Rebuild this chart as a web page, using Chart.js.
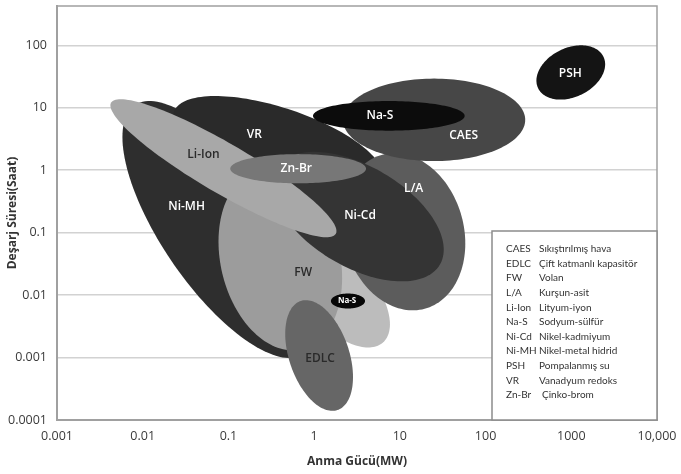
<!DOCTYPE html>
<html lang="tr">
<head>
<meta charset="UTF-8">
<title>Enerji depolama teknolojileri</title>
<script src="https://cdn.jsdelivr.net/npm/chart.js"></script>
<style>
    body { margin: 0; background: #fff; }
    .chart-container { width: 681px; height: 474px; }
</style>
</head>
<body>
<div class="chart-container"><canvas id="storageChart"></canvas></div>
<script>
// regions, drawn back to front (power in MW, discharge time in hours)
const regions   = ['Ni-MH', 'VR', 'FW-2', 'FW', 'L/A', 'Ni-Cd', 'CAES', 'Li-Ion', 'Zn-Br', 'Na-S', 'EDLC', 'Na-S-2', 'PSH'];
const labelText = ['Ni-MH', 'VR', '', 'FW', 'L/A', 'Ni-Cd', 'CAES', 'Li-Ion', 'Zn-Br', 'Na-S', 'EDLC', 'Na-S', 'PSH'];
const powerMin  = [0.0058, 0.0228, 0.472, 0.0766, 2.1, 0.325, 2.17, 0.0042, 0.105, 0.97, 0.46, 1.57, 392];
const powerMax  = [1.09, 6.38, 7.66, 2.12, 58, 32.5, 290, 1.82, 4.03, 57, 2.84, 3.92, 2483];
const hoursMin  = [0.00098, 0.386, 0.00145, 0.0013, 0.0057, 0.0166, 1.4, 0.0845, 0.617, 4.3, 0.00014, 0.0061, 13.5];
const hoursMax  = [12.8, 15.4, 0.0861, 1.04, 1.88, 1.97, 29.3, 13.7, 1.81, 12.8, 0.0083, 0.0106, 100];
const tilt      = [-0.72, -0.60, -0.58, -0.2, -0.15, -0.51, 0, -0.91, 0, 0, -0.39, 0, 0.3];
// where each name sits
const labelPower = [0.0325, 0.2, 1, 0.745, 14.5, 3.43, 55.5, 0.0512, 0.618, 5.85, 1.17, 2.42, 973];
const labelHours = [0.262, 3.67, 1, 0.0226, 0.513, 0.188, 3.53, 1.81, 1.08, 7.43, 0.00096, 0.008, 35.3];

// axis ticks
const xTicks = [0.001, 0.01, 0.1, 1, 10, 100, 1000, 10000];
const xTickLabels = ['0.001', '0.01', '0.1', '1', '10', '100', '1000', '10,000'];
const yTicks = [0.0001, 0.001, 0.01, 0.1, 1, 10, 100];
const yTickLabels = ['0.0001', '0.001', '0.01', '0.1', '1', '10', '100'];

// legend table
const legendAbbr = ['CAES', 'EDLC', 'FW', 'L/A', 'Li-Ion', 'Na-S', 'Ni-Cd', 'Ni-MH', 'PSH', 'VR', 'Zn-Br'];
const legendName = ['Sıkıştırılmış hava', 'Çift katmanlı kapasitör', 'Volan', 'Kurşun-asit', 'Lityum-iyon',
    'Sodyum-sülfür', 'Nikel-kadmiyum', 'Nikel-metal hidrid', 'Pompalanmış su', 'Vanadyum redoks', 'Çinko-brom'];

// styles
const fillColors = ['#2e2e2e', '#2a2a2a', '#bcbcbc', '#9c9c9c', '#5c5c5c', '#343434', '#474747',
    '#a8a8a8', '#777777', '#0c0c0c', '#666666', '#060606', '#141414'];
const textColors = ['#fff', '#fff', '#fff', '#2a2a2a', '#fff', '#fff', '#fff', '#2a2a2a', '#fff', '#fff', '#2a2a2a', '#fff', '#fff'];
const textSizes  = [12, 12, 12, 12, 12, 12, 12, 12, 12, 12, 12, 8, 12];

const regionPlugin = {
    id: 'regions',
    afterDatasetsDraw(chart) {
        const { ctx, chartArea: a, scales: { x, y } } = chart;
        ctx.save();
        ctx.beginPath();
        ctx.rect(a.left, a.top, a.width, a.height);
        ctx.clip();
        ctx.filter = 'blur(0.6px)';

        // each region is an ellipse in log-log space spanning its ranges
        regions.forEach((name, i) => {
            const lx0 = Math.log10(powerMin[i]), lx1 = Math.log10(powerMax[i]);
            const ly0 = Math.log10(hoursMin[i]), ly1 = Math.log10(hoursMax[i]);
            const cx = (lx0 + lx1) / 2, cy = (ly0 + ly1) / 2;
            const w = (lx1 - lx0) / 2, h = (ly1 - ly0) / 2;
            const r = tilt[i], s = Math.sqrt(1 - r * r);
            ctx.beginPath();
            for (let k = 0; k <= 144; k++) {
                const t = k / 144 * Math.PI * 2;
                const px = x.getPixelForValue(10 ** (cx + w * Math.cos(t)));
                const py = y.getPixelForValue(10 ** (cy + h * (r * Math.cos(t) + s * Math.sin(t))));
                if (k === 0) ctx.moveTo(px, py); else ctx.lineTo(px, py);
            }
            ctx.closePath();
            ctx.fillStyle = fillColors[i];
            ctx.fill();
        });
        ctx.filter = 'none';

        ctx.textAlign = 'center';
        ctx.textBaseline = 'middle';
        labelText.forEach((txt, i) => {
            if (!txt) return;
            ctx.font = (textSizes[i] < 10 ? '700 ' : '600 ') + textSizes[i] + 'px "Open Sans"';
            ctx.fillStyle = textColors[i];
            ctx.fillText(txt, x.getPixelForValue(labelPower[i]), y.getPixelForValue(labelHours[i]));
        });
        ctx.restore();

        // top and right frame
        ctx.save();
        ctx.strokeStyle = '#a0a0a0';
        ctx.lineWidth = 1.5;
        ctx.beginPath();
        ctx.moveTo(a.left, a.top);
        ctx.lineTo(a.right, a.top);
        ctx.lineTo(a.right, a.bottom);
        ctx.stroke();

        // legend box in the lower right corner
        const bx = a.right - 165, by = a.bottom - 189;
        ctx.fillStyle = '#fff';
        ctx.fillRect(bx, by, 165, 189);
        ctx.strokeStyle = '#8c8c8c';
        ctx.lineWidth = 1.5;
        ctx.strokeRect(bx, by, 165, 189);
        ctx.font = '10px Lato';
        ctx.fillStyle = '#333';
        ctx.textBaseline = 'middle';
        legendAbbr.forEach((ab, i) => {
            const ty = by + 18 + i * 14.6;
            ctx.fillText(ab, bx + 14, ty);
            ctx.fillText(legendName[i], bx + (ab === 'Zn-Br' ? 50 : 47), ty);
        });
        ctx.restore();
    }
};

const tickFont = { family: '"Open Sans"', size: 12.5 };
const titleFont = { family: '"Open Sans"', size: 12, weight: 'bold' };

const ctx = document.getElementById('storageChart').getContext('2d');
new Chart(ctx, {
    type: 'scatter',
    data: { datasets: [] },
    options: {
        responsive: true,
        maintainAspectRatio: false,
        animation: false,
        layout: { padding: { top: 6, right: 24, left: 0, bottom: 0 } },
        plugins: { legend: { display: false }, tooltip: { enabled: false } },
        scales: {
            x: {
                type: 'logarithmic',
                min: 0.001,
                max: 10000,
                afterBuildTicks: s => { s.ticks = xTicks.map(v => ({ value: v })); },
                afterFit: s => { s.height = 54; s.paddingLeft = 0; s.paddingRight = 0; },
                ticks: {
                    callback: (v, i) => xTickLabels[i],
                    font: tickFont, color: '#3a3a3a', padding: 9,
                    maxRotation: 0, autoSkip: false
                },
                grid: { display: false, drawTicks: false },
                border: { color: '#a0a0a0', width: 2 },
                title: { display: true, text: 'Anma Gücü(MW)', font: titleFont, color: '#333', padding: { top: 0, bottom: 5 } }
            },
            y: {
                type: 'logarithmic',
                min: 0.0001,
                max: 426,
                afterBuildTicks: s => { s.ticks = yTicks.map(v => ({ value: v })); },
                afterFit: s => { s.width = 57; s.paddingTop = 0; s.paddingBottom = 0; },
                ticks: {
                    callback: (v, i) => yTickLabels[i],
                    font: tickFont, color: '#3a3a3a', padding: 10, autoSkip: false
                },
                grid: { color: '#d2d2d2', lineWidth: 1.5, drawTicks: false },
                border: { color: '#a0a0a0', width: 2 },
                title: { display: true, text: 'Deşarj Süresi(Saat)', font: titleFont, color: '#333', padding: { top: 5, bottom: 0 } }
            }
        }
    },
    plugins: [regionPlugin]
});
</script>
</body>
</html>
